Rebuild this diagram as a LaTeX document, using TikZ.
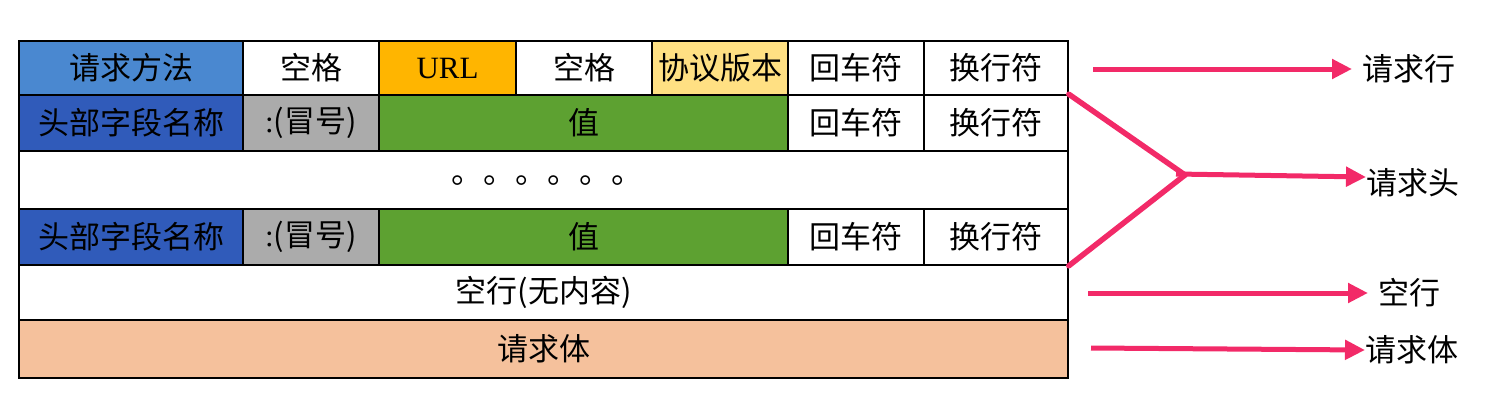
\documentclass[tikz,border=0pt]{standalone}
\usepackage{fontspec}
\setmainfont{Liberation Serif}
\newfontfamily\cjk{Noto Sans CJK SC}
\usetikzlibrary{arrows.meta}
\definecolor{cblue}{HTML}{4A88D0}
\definecolor{cdblue}{HTML}{305BBA}
\definecolor{cgray}{HTML}{ABABAB}
\definecolor{corange}{HTML}{FFB500}
\definecolor{cyellow}{HTML}{FFE083}
\definecolor{cgreen}{HTML}{5DA131}
\definecolor{cpeach}{HTML}{F5C19C}
\definecolor{cpink}{HTML}{F22A68}
\tikzset{
  cell/.style={draw=black, line width=1.6pt, inner sep=0pt, font=\cjk\fontsize{31}{33}\selectfont, text=black},
  lbl/.style={inner sep=0pt, anchor=west, font=\cjk\fontsize{31}{33}\selectfont},
  arr/.style={draw=cpink, line width=5pt, -{Triangle[length=20pt,width=19pt]}},
  brl/.style={draw=cpink, line width=5.5pt, line cap=round},
}
\newcommand\mycell[7]{\node[cell,fill=#6,minimum width={#4-#2},minimum height={#5-#3}] (#1) at ({(#2+#4)/2},{(#3+#5)/2}) {#7};}
\begin{document}
\begin{tikzpicture}[x=1pt,y=-1pt]
\useasboundingbox (0,0) rectangle (1510,418);
% row 1
\mycell{c11}{19}{41}{243}{95}{cblue}{请求方法}
\mycell{c12}{243}{41}{379}{95}{white}{空格}
\mycell{c13}{379}{41}{516}{95}{corange}{\rmfamily URL}
\mycell{c14}{516}{41}{652}{95}{white}{空格}
\mycell{c15}{652}{41}{788}{95}{cyellow}{协议版本}
\mycell{c16}{788}{41}{924}{95}{white}{回车符}
\mycell{c17}{924}{41}{1068}{95}{white}{换行符}
% row 2
\mycell{c21}{19}{95}{243}{151}{cdblue}{头部字段名称}
\mycell{c22}{243}{95}{379}{151}{cgray}{{\rmfamily :}(冒号)}
\mycell{c23}{379}{95}{788}{151}{cgreen}{值}
\mycell{c26}{788}{95}{924}{151}{white}{回车符}
\mycell{c27}{924}{95}{1068}{151}{white}{换行符}
% row 3
\mycell{c3}{19}{151}{1068}{209}{white}{}
\node[inner sep=0pt, anchor=base west, font=\cjk\fontsize{32}{34}\selectfont] (dots) at (451.6,183.2) {。。。。。。};
% row 4
\mycell{c41}{19}{209}{243}{265}{cdblue}{头部字段名称}
\mycell{c42}{243}{209}{379}{265}{cgray}{{\rmfamily :}(冒号)}
\mycell{c43}{379}{209}{788}{265}{cgreen}{值}
\mycell{c46}{788}{209}{924}{265}{white}{回车符}
\mycell{c47}{924}{209}{1068}{265}{white}{换行符}
% row 5, 6
\mycell{c5}{19}{265}{1068}{320}{white}{空行(无内容)}
\mycell{c6}{19}{320}{1068}{378}{cpeach}{请求体}
% labels
\node[lbl] (l1) at (1362,69) {请求行};
\node[lbl] (l2) at (1366,183) {请求头};
\node[lbl] (l3) at (1378,293) {空行};
\node[lbl] (l4) at (1365,350) {请求体};
% arrows
\coordinate (s1) at (1093,69);
\coordinate (s3) at (1088,293);
\coordinate (s4) at (1091,348);
\coordinate (j) at (1185,175);
\coordinate (h) at (1176,174);
\draw[arr] (s1) -- ([xshift=-10pt]l1.west);
\draw[brl] (c27.north east) -- (j);
\draw[brl] (c47.south east) -- (j);
\draw[arr] (h) -- ([yshift=6pt]l2.west);
\draw[arr] (s3) -- ([xshift=-10pt]l3.west);
\draw[arr] (s4) -- (l4.west);
\end{tikzpicture}
\end{document}
